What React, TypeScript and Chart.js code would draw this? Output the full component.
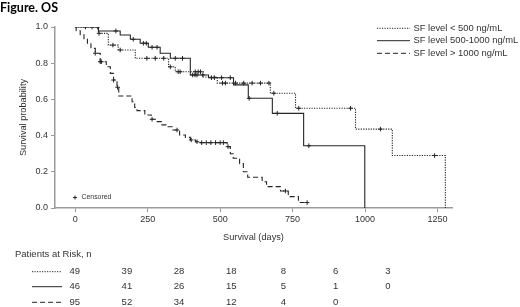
import { useEffect, useRef } from "react";
import { Chart, registerables } from "chart.js";
Chart.register(...registerables);

const seriesNames = ["SF level < 500 ng/mL", "SF level 500-1000 ng/mL", "SF level > 1000 ng/mL"];
const xTicks = [0, 250, 500, 750, 1000, 1250];

// Kaplan-Meier events: day and survival after the event
const lowDays = [0, 80, 114, 148, 207, 322, 345, 442, 490, 673, 760, 967, 1094, 1277];
const lowSurv = [1, 0.965, 0.9, 0.873, 0.827, 0.78, 0.753, 0.724, 0.69, 0.634, 0.551, 0.436, 0.29, 0];
const lowCensor = [58, 82, 130, 155, 247, 276, 305, 328, 355, 362, 414, 424, 432, 508, 518, 553, 581, 610, 639, 668, 685, 771, 950, 1053, 1240];

const midDays = [0, 80, 155, 190, 224, 252, 293, 328, 397, 460, 546, 597, 680, 788, 999];
const midSurv = [1, 0.978, 0.956, 0.932, 0.91, 0.888, 0.855, 0.827, 0.735, 0.72, 0.68, 0.606, 0.523, 0.344, 0];
const midCensor = [35, 77, 140, 200, 235, 245, 265, 282, 345, 370, 405, 413, 420, 440, 470, 480, 505, 535, 600, 697, 806];

const highDays = [0, 3, 17, 30, 42, 54, 69, 86, 107, 121, 132, 144, 150, 196, 205, 213, 240, 262, 280, 297, 313, 334, 360, 380, 397, 415, 425, 524, 535, 545, 567, 580, 595, 645, 660, 708, 735, 770];
const highSurv = [1, 0.979, 0.958, 0.935, 0.91, 0.882, 0.855, 0.808, 0.78, 0.744, 0.707, 0.667, 0.619, 0.587, 0.555, 0.538, 0.514, 0.49, 0.477, 0.459, 0.449, 0.431, 0.403, 0.39, 0.376, 0.366, 0.361, 0.339, 0.3, 0.275, 0.245, 0.2, 0.17, 0.145, 0.118, 0.094, 0.063, 0.03];
const highCensor = [69, 86, 90, 132, 146, 265, 351, 400, 420, 436, 452, 468, 484, 500, 511, 527, 725, 800];

const riskLow = ["49", "39", "28", "18", "8", "6", "3"];
const riskMid = ["46", "41", "26", "15", "5", "1", "0"];
const riskHigh = ["95", "52", "34", "12", "4", "0"];

const lineColor = "#262626";
const axisColor = "#9a9a9a";
const dashes = [[1.2, 1.3], [], [5, 3]];
const FONT = '"Liberation Sans", Arial, sans-serif';

function survAt(days: number[], surv: number[], t: number) {
  let s = 1;
  for (let i = 0; i < days.length; i++) if (days[i] <= t) s = surv[i];
  return s;
}

function linePoints(days: number[], surv: number[], cens: number[]) {
  const pts = days.map((d, i) => ({ x: d, y: surv[i] }));
  const lastC = Math.max(...cens);
  if (lastC > days[days.length - 1]) pts.push({ x: lastC, y: survAt(days, surv, lastC) });
  return pts;
}
function censorPoints(days: number[], surv: number[], cens: number[]) {
  return cens.map((c) => ({ x: c, y: survAt(days, surv, c) }));
}

function drawSample(ctx: CanvasRenderingContext2D, x0: number, x1: number, y: number, k: number) {
  ctx.save();
  ctx.strokeStyle = lineColor;
  ctx.lineWidth = 1;
  ctx.setLineDash(dashes[k]);
  ctx.beginPath();
  ctx.moveTo(x0, y);
  ctx.lineTo(x1, y);
  ctx.stroke();
  ctx.restore();
}

const overlay = {
  id: "overlay",
  afterDraw(chart: any) {
    const ctx: CanvasRenderingContext2D = chart.ctx;
    const a = chart.chartArea;
    ctx.save();
    ctx.fillStyle = "#000";
    ctx.font = "bold 12.5px Lato, sans-serif";
    ctx.textAlign = "left";
    ctx.textBaseline = "alphabetic";
    ctx.fillText("Figure. OS", 0, 12);

    ctx.fillStyle = "#333";
    ctx.font = `9.2px ${FONT}`;
    ctx.textAlign = "center";
    ctx.textBaseline = "middle";
    ctx.fillText("Survival (days)", (a.left + a.right) / 2, 237);
    ctx.save();
    ctx.translate(23, (a.top + a.bottom) / 2);
    ctx.rotate(-Math.PI / 2);
    ctx.fillText("Survival probability", 0, 0);
    ctx.restore();

    // legend
    ctx.font = `9.4px ${FONT}`;
    ctx.textAlign = "left";
    const ly = [28.3, 40.7, 53.3];
    seriesNames.forEach((n, k) => {
      drawSample(ctx, 377, 410, ly[k], k);
      ctx.fillStyle = "#333";
      ctx.fillText(n, 413.5, ly[k]);
    });

    // censored note
    ctx.strokeStyle = lineColor;
    ctx.lineWidth = 1;
    ctx.beginPath();
    ctx.moveTo(73, 197.5); ctx.lineTo(77, 197.5);
    ctx.moveTo(75, 195.5); ctx.lineTo(75, 199.5);
    ctx.stroke();
    ctx.font = `6.9px ${FONT}`;
    ctx.fillText("Censored", 81.5, 197.5);

    // risk table
    ctx.font = `9.5px ${FONT}`;
    ctx.fillText("Patients at Risk, n", 15, 254.5);
    const rows = [riskLow, riskMid, riskHigh];
    const ry = [271.7, 286.7, 302.3];
    ctx.textAlign = "center";
    rows.forEach((r, k) => {
      drawSample(ctx, 32, 62, ry[k], k);
      r.forEach((v, i) => {
        ctx.fillStyle = "#333";
        ctx.fillText(v, 74.7 + 52.2 * i, ry[k]);
      });
    });
    ctx.restore();
  },
};

export default function App() {
  const ref = useRef<HTMLCanvasElement>(null);
  useEffect(() => {
    if (!ref.current) return;
    const series = [
      [lowDays, lowSurv, lowCensor],
      [midDays, midSurv, midCensor],
      [highDays, highSurv, highCensor],
    ] as number[][][];
    const datasets: any[] = [];
    series.forEach(([d, s, c], k) => {
      datasets.push({
        type: "line",
        label: seriesNames[k],
        data: linePoints(d, s, c),
        stepped: true,
        borderColor: lineColor,
        borderWidth: 1.1,
        borderDash: dashes[k],
        pointRadius: 0,
        fill: false,
      });
    });
    series.forEach(([d, s, c], k) => {
      datasets.push({
        type: "scatter",
        label: seriesNames[k] + " censored",
        data: censorPoints(d, s, c),
        pointStyle: "cross",
        pointRadius: 2.3,
        borderColor: lineColor,
        borderWidth: 1,
        showLine: false,
      });
    });
    const chart = new Chart(ref.current, {
      type: "line",
      data: { datasets },
      options: {
        animation: false,
        responsive: false,
        events: [],
        layout: { padding: { top: 27, right: 68, left: 0, bottom: 0 } },
        plugins: { legend: { display: false }, tooltip: { enabled: false }, title: { display: false } },
        scales: {
          x: {
            type: "linear",
            min: -70,
            max: 1300,
            afterBuildTicks: (s: any) => {
              s.ticks = xTicks.map((v) => ({ value: v }));
            },
            afterFit: (s: any) => {
              s.height = 99;
            },
            grid: { drawOnChartArea: false, drawTicks: true, tickLength: 4, color: axisColor, lineWidth: 1 },
            border: { display: true, color: axisColor, width: 1.5 },
            ticks: {
              color: "#333",
              font: { family: FONT, size: 9 },
              padding: 2,
              maxRotation: 0,
              callback: (v: any) => String(v),
            },
          },
          y: {
            type: "linear",
            min: 0,
            max: 1,
            afterFit: (s: any) => {
              s.width = 55;
            },
            grid: { drawOnChartArea: false, drawTicks: true, tickLength: 4, color: axisColor, lineWidth: 1 },
            border: { display: true, color: axisColor, width: 1.5 },
            ticks: {
              stepSize: 0.2,
              color: "#333",
              font: { family: FONT, size: 9 },
              padding: 3,
              callback: (v: any) => Number(v).toFixed(1),
            },
          },
        },
      },
      plugins: [overlay],
    } as any);
    return () => chart.destroy();
  }, []);
  return (
    <div style={{ position: "fixed", left: 0, top: 0, width: 520, height: 307, background: "#fff" }}>
      <canvas ref={ref} width={520} height={307} style={{ display: "block" }} />
    </div>
  );
}
